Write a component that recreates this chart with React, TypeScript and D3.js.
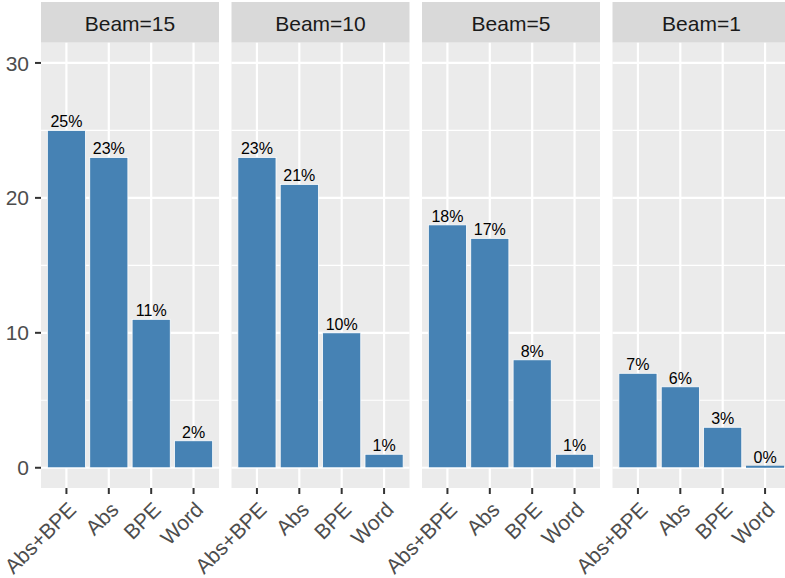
import * as d3 from "d3";
import { useEffect, useRef } from "react";

const beams = ["Beam=15", "Beam=10", "Beam=5", "Beam=1"];
const methods = ["Abs+BPE", "Abs", "BPE", "Word"];
const beam15 = [25, 23, 11, 2];
const beam10 = [23, 21, 10, 1];
const beam5 = [18, 17, 8, 1];
const beam1 = [7, 6, 3, 0.15];
const yTicks = [0, 10, 20, 30];
const yMinor = [5, 15, 25];

const seriesByBeam = [beam15, beam10, beam5, beam1];

const FONT = "'Liberation Sans', Arial, Helvetica, sans-serif";

const App: React.FC = () => {
  const ref = useRef<SVGSVGElement | null>(null);

  useEffect(() => {
    const svg = d3.select(ref.current);
    svg.selectAll("*").remove();

    const width = 785,
      height = 578;
    const left = 41,
      panelW = 178,
      gap = 12.5;
    const stripTop = 2,
      panelTop = 42.7,
      panelBottom = 488;

    svg.attr("width", width).attr("height", height);
    svg.append("rect").attr("width", width).attr("height", height).attr("fill", "white");

    const y = d3.scaleLinear().domain([-1.5, 31.5]).range([panelBottom, panelTop]);

    // y axis (left only)
    const yAxis = svg.append("g").attr("font-family", FONT);
    yTicks.forEach((t) => {
      yAxis
        .append("line")
        .attr("x1", left - 6)
        .attr("x2", left)
        .attr("y1", y(t))
        .attr("y2", y(t))
        .attr("stroke", "#333333")
        .attr("stroke-width", 2);
      yAxis
        .append("text")
        .attr("x", left - 12)
        .attr("y", y(t))
        .attr("dy", "0.36em")
        .attr("text-anchor", "end")
        .attr("font-size", 21)
        .attr("fill", "#4D4D4D")
        .text(t);
    });

    beams.forEach((beam, p) => {
      const x0 = left + p * (panelW + gap);
      const x = d3
        .scaleBand<string>()
        .domain(methods)
        .range([x0, x0 + panelW])
        .paddingInner(0)
        .paddingOuter(0.1);
      const step = x.step();
      const cx = (m: string) => (x(m) as number) + step / 2;

      const g = svg.append("g");

      // strip
      g.append("rect")
        .attr("x", x0)
        .attr("y", stripTop)
        .attr("width", panelW)
        .attr("height", panelTop - stripTop)
        .attr("fill", "#D9D9D9");
      g.append("text")
        .attr("x", x0 + panelW / 2)
        .attr("y", 30.5)
        .attr("text-anchor", "middle")
        .attr("font-family", FONT)
        .attr("font-size", 21)
        .attr("fill", "#1A1A1A")
        .text(beam);

      // panel background + grid
      g.append("rect")
        .attr("x", x0)
        .attr("y", panelTop)
        .attr("width", panelW)
        .attr("height", panelBottom - panelTop)
        .attr("fill", "#EBEBEB");
      yMinor.forEach((t) => {
        g.append("line")
          .attr("x1", x0)
          .attr("x2", x0 + panelW)
          .attr("y1", y(t))
          .attr("y2", y(t))
          .attr("stroke", "white")
          .attr("stroke-width", 1.1);
      });
      yTicks.forEach((t) => {
        g.append("line")
          .attr("x1", x0)
          .attr("x2", x0 + panelW)
          .attr("y1", y(t))
          .attr("y2", y(t))
          .attr("stroke", "white")
          .attr("stroke-width", 2.2);
      });
      methods.forEach((m) => {
        g.append("line")
          .attr("x1", cx(m))
          .attr("x2", cx(m))
          .attr("y1", panelTop)
          .attr("y2", panelBottom)
          .attr("stroke", "white")
          .attr("stroke-width", 2.2);
      });

      // bars
      const vals = seriesByBeam[p];
      const bw = step * 0.9;
      g.selectAll("rect.bar")
        .data(vals)
        .enter()
        .append("rect")
        .attr("class", "bar")
        .attr("x", (_, i) => cx(methods[i]) - bw / 2)
        .attr("y", (d) => y(d))
        .attr("width", bw)
        .attr("height", (d) => y(0) - y(d))
        .attr("fill", "#4682B4")
        .attr("stroke", (d) => (d < 1 ? "none" : "white"))
        .attr("stroke-width", 0.8);

      g.selectAll("text.lab")
        .data(vals)
        .enter()
        .append("text")
        .attr("class", "lab")
        .attr("x", (_, i) => cx(methods[i]))
        .attr("y", (d) => y(d) - 3)
        .attr("text-anchor", "middle")
        .attr("font-family", FONT)
        .attr("font-size", 16)
        .attr("fill", "black")
        .text((d) => `${Math.round(d)}%`);

      // x ticks + rotated labels
      methods.forEach((m) => {
        g.append("line")
          .attr("x1", cx(m))
          .attr("x2", cx(m))
          .attr("y1", panelBottom)
          .attr("y2", panelBottom + 6)
          .attr("stroke", "#333333")
          .attr("stroke-width", 2);
        const ax = cx(m) + 11,
          ay = 511;
        g.append("text")
          .attr("transform", `translate(${ax},${ay}) rotate(-45)`)
          .attr("text-anchor", "end")
          .attr("font-family", FONT)
          .attr("font-size", 21)
          .attr("fill", "#4D4D4D")
          .text(m);
      });
    });
  }, []);

  return (
    <svg
      ref={ref}
      style={{ position: "absolute", left: 0, top: 0, display: "block" }}
    ></svg>
  );
};

export default App;
